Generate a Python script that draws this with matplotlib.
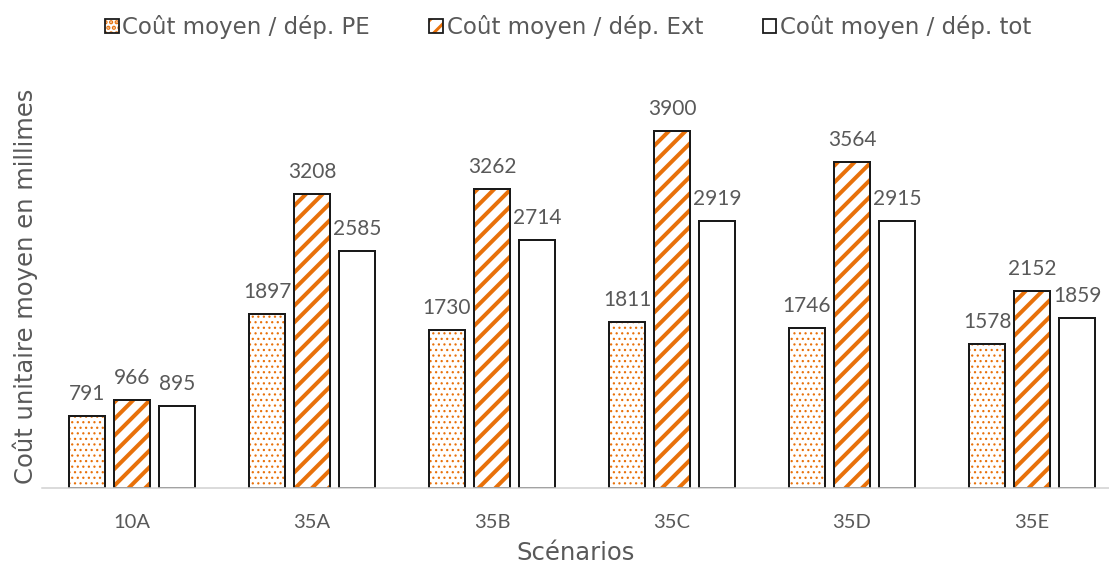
import matplotlib
matplotlib.use("Agg")
import matplotlib.pyplot as plt
import numpy as np
from matplotlib.patches import Patch
from matplotlib.legend_handler import HandlerTuple

categories = ["10A", "35A", "35B", "35C", "35D", "35E"]
pe = [791, 1897, 1730, 1811, 1746, 1578]
ext = [966, 3208, 3262, 3900, 3564, 2152]
tot = [895, 2585, 2714, 2919, 2915, 1859]
series_names = ["Coût moyen / dép. PE", "Coût moyen / dép. Ext", "Coût moyen / dép. tot"]

DPI = 100

def px(v):  # pixel -> points
    return v * 72 / DPI

orange = "#E8710A"
edge = "#1A1A1A"
txt = "#595959"
num_font = ['Lato', 'DejaVu Sans']
word_font = ['DejaVu Sans']

W, H = 1109, 571
fig = plt.figure(figsize=(W/DPI, H/DPI), dpi=DPI)
ax = fig.add_axes([42/W, (H-488)/H, (W-42)/W, (488-76)/H])

x = np.arange(len(categories))
bw = 0.2
offs = [-0.25, 0, 0.25]
hatches = ['...', '//', None]
hlw = [px(1.2), px(4.0), None]
data = [pe, ext, tot]

def set_hlw(bars, lw):
    for b in bars:
        if hasattr(b, 'set_hatch_linewidth'):
            b.set_hatch_linewidth(lw)

for d, o, h, lw in zip(data, offs, hatches, hlw):
    if h is not None:
        with plt.rc_context({'hatch.linewidth': lw}):
            bars = ax.bar(x + o, d, bw, color='white', edgecolor=orange, hatch=h, linewidth=0)
        set_hlw(bars, lw)
    ax.bar(x + o, d, bw, fill=(h is None), color='white', edgecolor=edge, linewidth=px(2))
    for xi, v in zip(x + o, d):
        ax.annotate(str(v), (xi, v), xytext=(0, px(12)), textcoords='offset points',
                    ha='center', va='bottom', fontsize=15, color=txt, family=num_font)

ax.set_xlim(-0.5, -0.5 + (W-42)/180)
ax.set_ylim(0, 4500)
for s in ['top', 'right', 'left']:
    ax.spines[s].set_visible(False)
ax.spines['bottom'].set_color('#D0D0D0')
ax.spines['bottom'].set_linewidth(px(1.5))
ax.set_yticks([])
ax.set_xticks(x)
ax.set_xticklabels(categories, fontsize=14.5, color=txt, family=num_font)
ax.tick_params(axis='x', length=0, pad=px(26))
ax.set_xlabel("Scénarios", fontsize=17.5, color=txt, labelpad=px(10), family=word_font)
fig.text(25/W, 285/H, "Coût unitaire moyen en millimes", rotation=90, ha='center', va='center',
         fontsize=17.5, color=txt, family=word_font)

handles = []
for h, lw in zip(hatches, hlw):
    outline = Patch(facecolor='none', edgecolor=edge, linewidth=px(1.8))
    if h is not None:
        hp = Patch(facecolor='white', edgecolor=orange, hatch=h, linewidth=0)
        if hasattr(hp, 'set_hatch_linewidth'):
            hp.set_hatch_linewidth(lw)
        handles.append((hp, outline))
    else:
        handles.append((Patch(facecolor='white', edgecolor='none'), outline))

with plt.rc_context({'hatch.linewidth': px(3)}):
    leg = fig.legend(handles, series_names, loc='center', bbox_to_anchor=(568/W, 1 - 27/H),
                     ncol=3, frameon=False, prop={'family': word_font, 'size': 16.5},
                     handlelength=0.6, handleheight=0.6,
                     handletextpad=0.15, columnspacing=2.6, labelcolor=txt,
                     handler_map={tuple: HandlerTuple(ndivide=1, pad=0)})

fig.savefig("out.png", dpi=DPI)
